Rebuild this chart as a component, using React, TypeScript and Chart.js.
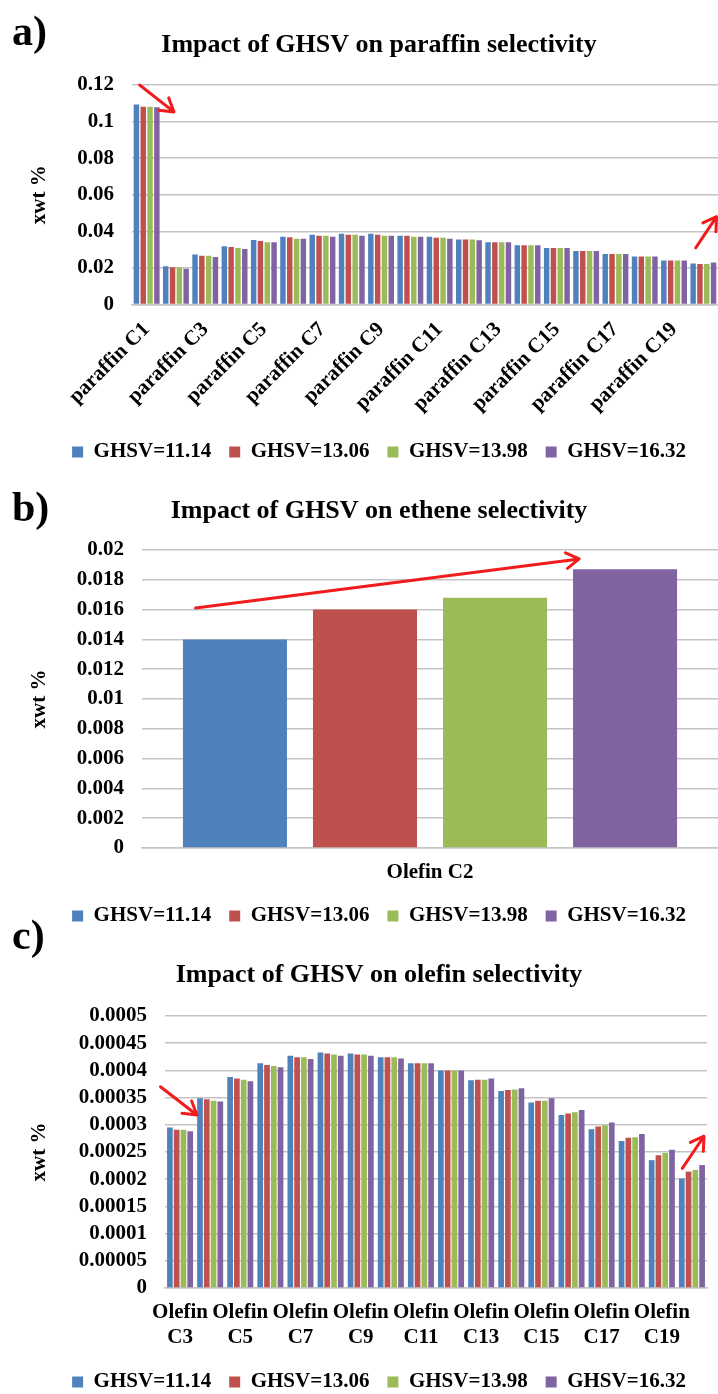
import React, { useEffect, useRef } from 'react';
import { Chart, registerables } from 'chart.js';

Chart.register(...registerables);

const FONT = "'Liberation Serif', 'Times New Roman', serif";

const seriesNames = ['GHSV=11.14', 'GHSV=13.06', 'GHSV=13.98', 'GHSV=16.32'];
const seriesColors = ['#4F81BD', '#C0504D', '#9BBB59', '#8064A2'];

// ---------- a) paraffin ----------
const paraffinCategories = [
  'paraffin C1', 'paraffin C2', 'paraffin C3', 'paraffin C4', 'paraffin C5',
  'paraffin C6', 'paraffin C7', 'paraffin C8', 'paraffin C9', 'paraffin C10',
  'paraffin C11', 'paraffin C12', 'paraffin C13', 'paraffin C14', 'paraffin C15',
  'paraffin C16', 'paraffin C17', 'paraffin C18', 'paraffin C19', 'paraffin C20',
];
const paraffinGHSV1114 = [0.1094, 0.0209, 0.0273, 0.0318, 0.0353, 0.0371, 0.0382, 0.0387, 0.0387, 0.0376, 0.0371, 0.0356, 0.034, 0.0324, 0.0309, 0.0293, 0.0276, 0.0262, 0.024, 0.0224];
const paraffinGHSV1306 = [0.1081, 0.0204, 0.0267, 0.0315, 0.0347, 0.0367, 0.0376, 0.0382, 0.0382, 0.0376, 0.0365, 0.0356, 0.034, 0.0324, 0.0309, 0.0293, 0.0276, 0.0262, 0.024, 0.0222];
const paraffinGHSV1398 = [0.1081, 0.0202, 0.0267, 0.0309, 0.034, 0.036, 0.0376, 0.0382, 0.0376, 0.0371, 0.0365, 0.0356, 0.034, 0.0324, 0.0309, 0.0293, 0.0276, 0.0262, 0.024, 0.0222];
const paraffinGHSV1632 = [0.1078, 0.0196, 0.026, 0.0304, 0.034, 0.036, 0.0371, 0.0376, 0.0376, 0.0371, 0.036, 0.0351, 0.034, 0.0324, 0.0309, 0.0293, 0.0276, 0.0262, 0.024, 0.0229];
const paraffinTicks = [0, 0.02, 0.04, 0.06, 0.08, 0.1, 0.12];
const paraffinTickLabels = ['0', '0.02', '0.04', '0.06', '0.08', '0.1', '0.12'];

// ---------- b) ethene ----------
const etheneCategories = ['Olefin C2'];
const etheneGHSV1114 = [0.014];
const etheneGHSV1306 = [0.016];
const etheneGHSV1398 = [0.0168];
const etheneGHSV1632 = [0.0187];
const etheneTicks = [0, 0.002, 0.004, 0.006, 0.008, 0.01, 0.012, 0.014, 0.016, 0.018, 0.02];
const etheneTickLabels = ['0', '0.002', '0.004', '0.006', '0.008', '0.01', '0.012', '0.014', '0.016', '0.018', '0.02'];

// ---------- c) olefin ----------
const olefinCategories = [
  'Olefin C3', 'Olefin C4', 'Olefin C5', 'Olefin C6', 'Olefin C7', 'Olefin C8',
  'Olefin C9', 'Olefin C10', 'Olefin C11', 'Olefin C12', 'Olefin C13', 'Olefin C14',
  'Olefin C15', 'Olefin C16', 'Olefin C17', 'Olefin C18', 'Olefin C19', 'Olefin C20',
];
const olefinGHSV1114 = [0.000295, 0.000349, 0.000388, 0.000413, 0.000427, 0.000433, 0.000431, 0.000424, 0.000413, 0.0004, 0.000382, 0.000362, 0.000341, 0.000318, 0.000292, 0.00027, 0.000235, 0.000201];
const olefinGHSV1306 = [0.000291, 0.000347, 0.000385, 0.00041, 0.000424, 0.000431, 0.000429, 0.000424, 0.000413, 0.0004, 0.000383, 0.000364, 0.000344, 0.000321, 0.000297, 0.000276, 0.000244, 0.000214];
const olefinGHSV1398 = [0.000291, 0.000344, 0.000383, 0.000408, 0.000424, 0.000429, 0.000429, 0.000424, 0.000413, 0.0004, 0.000383, 0.000365, 0.000344, 0.000323, 0.000299, 0.000277, 0.000248, 0.000217];
const olefinGHSV1632 = [0.000288, 0.000343, 0.00038, 0.000406, 0.000421, 0.000427, 0.000427, 0.000422, 0.000413, 0.0004, 0.000385, 0.000367, 0.000349, 0.000327, 0.000304, 0.000283, 0.000254, 0.000226];
const olefinTicks = [0, 0.00005, 0.0001, 0.00015, 0.0002, 0.00025, 0.0003, 0.00035, 0.0004, 0.00045, 0.0005];
const olefinTickLabels = ['0', '0.00005', '0.0001', '0.00015', '0.0002', '0.00025', '0.0003', '0.00035', '0.0004', '0.00045', '0.0005'];

// red annotation arrows: [category index (fractional), value]
type ArrowSpec = { from: [number, number]; to: [number, number] };
const paraffinArrows: ArrowSpec[] = [
  { from: [-0.24, 0.12], to: [0.93, 0.1053] },
  { from: [18.74, 0.031], to: [19.45, 0.048] },
];
const etheneArrows: ArrowSpec[] = [{ from: [-0.407, 0.0161], to: [0.259, 0.0194] }];
const olefinArrows: ArrowSpec[] = [
  { from: [-0.65, 0.00037], to: [0.56, 0.000318] },
  { from: [16.68, 0.00022], to: [17.4, 0.000279] },
];

type PanelSpec = {
  title: string;
  categories: string[];
  series: number[][];
  yTicks: number[];
  yTickLabels: string[];
  arrows: ArrowSpec[];
  height: number;
  plotLeft: number;
  rightGap: number;
  xAxisHeight: number;
  titlePadTop: number;
  titlePadBottom: number;
  layoutBottom: number;
  catPct: number;
  barPct: number;
  rotation: number;
  xTickPadding: number;
  xLabel: (label: string, i: number) => string | string[];
};

const arrowPlugin = (arrows: ArrowSpec[]) => ({
  id: 'redArrows',
  afterDatasetsDraw(chart: any) {
    const { ctx } = chart;
    const xs = chart.scales.x;
    const ys = chart.scales.y;
    ctx.save();
    ctx.strokeStyle = '#F21C1C';
    ctx.lineWidth = 3;
    ctx.lineCap = 'round';
    ctx.lineJoin = 'round';
    for (const a of arrows) {
      const x1 = xs.getPixelForValue(a.from[0]);
      const y1 = ys.getPixelForValue(a.from[1]);
      const x2 = xs.getPixelForValue(a.to[0]);
      const y2 = ys.getPixelForValue(a.to[1]);
      const ang = Math.atan2(y2 - y1, x2 - x1);
      const L = 15;
      const phi = 0.55;
      ctx.beginPath();
      ctx.moveTo(x1, y1);
      ctx.lineTo(x2, y2);
      ctx.moveTo(x2 - L * Math.cos(ang - phi), y2 - L * Math.sin(ang - phi));
      ctx.lineTo(x2, y2);
      ctx.lineTo(x2 - L * Math.cos(ang + phi), y2 - L * Math.sin(ang + phi));
      ctx.stroke();
    }
    ctx.restore();
  },
});

function BarPanel({ spec, top }: { spec: PanelSpec; top: number }) {
  const ref = useRef<HTMLCanvasElement>(null);
  useEffect(() => {
    const canvas = ref.current;
    if (!canvas) return;
    const chart = new Chart(canvas, {
      type: 'bar',
      data: {
        labels: spec.categories,
        datasets: spec.series.map((vals, i) => ({
          label: seriesNames[i],
          data: vals,
          backgroundColor: seriesColors[i],
          borderWidth: 0,
          categoryPercentage: spec.catPct,
          barPercentage: spec.barPct,
        })),
      },
      options: {
        responsive: false,
        animation: false,
        devicePixelRatio: 1,
        color: '#000',
        layout: { padding: { left: 0, right: 0, top: 0, bottom: spec.layoutBottom } },
        plugins: {
          tooltip: { enabled: false },
          title: {
            display: true,
            text: spec.title,
            color: '#000',
            font: { family: FONT, size: 26, weight: 'bold', lineHeight: 1.2 },
            padding: { top: spec.titlePadTop, bottom: spec.titlePadBottom },
          },
          legend: {
            display: true,
            position: 'bottom',
            labels: {
              color: '#000',
              font: { family: FONT, size: 21, weight: 'bold' },
              boxWidth: 11,
              boxHeight: 11,
              padding: 18,
            },
          },
        },
        scales: {
          x: {
            grid: { display: false, drawTicks: false },
            border: { display: true, color: '#C4C4C4', width: 1.5 },
            ticks: {
              color: '#000',
              font: { family: FONT, size: 21, weight: 'bold', lineHeight: 1.19 },
              autoSkip: false,
              minRotation: spec.rotation,
              maxRotation: spec.rotation,
              padding: spec.xTickPadding,
              callback: (_v: any, i: number) => spec.xLabel(spec.categories[i], i),
            },
            afterFit: (s: any) => {
              s.height = spec.xAxisHeight;
            },
          },
          y: {
            min: spec.yTicks[0],
            max: spec.yTicks[spec.yTicks.length - 1],
            grid: { color: '#C4C4C4', lineWidth: 1.5, drawTicks: false },
            border: { display: false },
            title: {
              display: true,
              text: 'xwt %',
              color: '#000',
              font: { family: FONT, size: 21, weight: 'bold' },
              padding: { top: 27, bottom: 0 },
            },
            ticks: {
              color: '#000',
              font: { family: FONT, size: 21, weight: 'bold' },
              padding: 18,
              autoSkip: false,
              callback: (_v: any, i: number) => spec.yTickLabels[i],
            },
            afterBuildTicks: (s: any) => {
              s.ticks = spec.yTicks.map((v) => ({ value: v }));
            },
            afterFit: (s: any) => {
              s.width = spec.plotLeft;
            },
          },
          yRight: {
            position: 'right',
            display: true,
            grid: { display: false },
            border: { display: false },
            ticks: { display: false },
            afterFit: (s: any) => {
              s.width = spec.rightGap;
            },
          },
        },
      } as any,
      plugins: [arrowPlugin(spec.arrows)],
    });
    return () => chart.destroy();
  }, []);
  return (
    <div style={{ position: 'absolute', left: 0, top, width: 718, height: spec.height, overflow: 'hidden' }}>
      <canvas ref={ref} width={758} height={spec.height} style={{ display: 'block', width: 758, height: spec.height }} />
    </div>
  );
}

const panelA: PanelSpec = {
  title: 'Impact of GHSV on paraffin selectivity',
  categories: paraffinCategories,
  series: [paraffinGHSV1114, paraffinGHSV1306, paraffinGHSV1398, paraffinGHSV1632],
  yTicks: paraffinTicks,
  yTickLabels: paraffinTickLabels,
  arrows: paraffinArrows,
  height: 484,
  plotLeft: 132,
  rightGap: 40,
  xAxisHeight: 119,
  titlePadTop: 29.4,
  titlePadBottom: 24.4,
  layoutBottom: 11.5,
  catPct: 0.93,
  barPct: 0.8,
  rotation: 45,
  xTickPadding: 13,
  xLabel: (l, i) => (i % 2 === 0 ? l : ''),
};

const panelB: PanelSpec = {
  title: 'Impact of GHSV on ethene selectivity',
  categories: etheneCategories,
  series: [etheneGHSV1114, etheneGHSV1306, etheneGHSV1398, etheneGHSV1632],
  yTicks: etheneTicks,
  yTickLabels: etheneTickLabels,
  arrows: etheneArrows,
  height: 455,
  plotLeft: 142,
  rightGap: 40,
  xAxisHeight: 39.5,
  titlePadTop: 12.1,
  titlePadBottom: 22.7,
  layoutBottom: 2.5,
  catPct: 0.903,
  barPct: 0.8,
  rotation: 0,
  xTickPadding: 12,
  xLabel: (l) => l,
};

const panelC: PanelSpec = {
  title: 'Impact of GHSV on olefin selectivity',
  categories: olefinCategories,
  series: [olefinGHSV1114, olefinGHSV1306, olefinGHSV1398, olefinGHSV1632],
  yTicks: olefinTicks,
  yTickLabels: olefinTickLabels,
  arrows: olefinArrows,
  height: 464,
  plotLeft: 165,
  rightGap: 51,
  xAxisHeight: 65.5,
  titlePadTop: 20.4,
  titlePadBottom: 25.4,
  layoutBottom: 0.5,
  catPct: 0.9,
  barPct: 0.84,
  rotation: 0,
  xTickPadding: 12.5,
  xLabel: (l, i) => (i % 2 === 0 ? l.split(' ') : ''),
};

const panelLetter: React.CSSProperties = {
  position: 'absolute',
  left: 12,
  fontFamily: FONT,
  fontWeight: 'bold',
  fontSize: 42,
  lineHeight: 1,
  color: '#000',
};

export default function App() {
  return (
    <div style={{ position: 'relative', width: 718, height: 1394, overflow: 'hidden', background: '#fff' }}>
      <style>{'body{margin:0;}'}</style>
      <BarPanel spec={panelA} top={0} />
      <BarPanel spec={panelB} top={484} />
      <BarPanel spec={panelC} top={939} />
      <div style={{ ...panelLetter, top: 10 }}>a)</div>
      <div style={{ ...panelLetter, top: 485.5 }}>b)</div>
      <div style={{ ...panelLetter, top: 914 }}>c)</div>
    </div>
  );
}
